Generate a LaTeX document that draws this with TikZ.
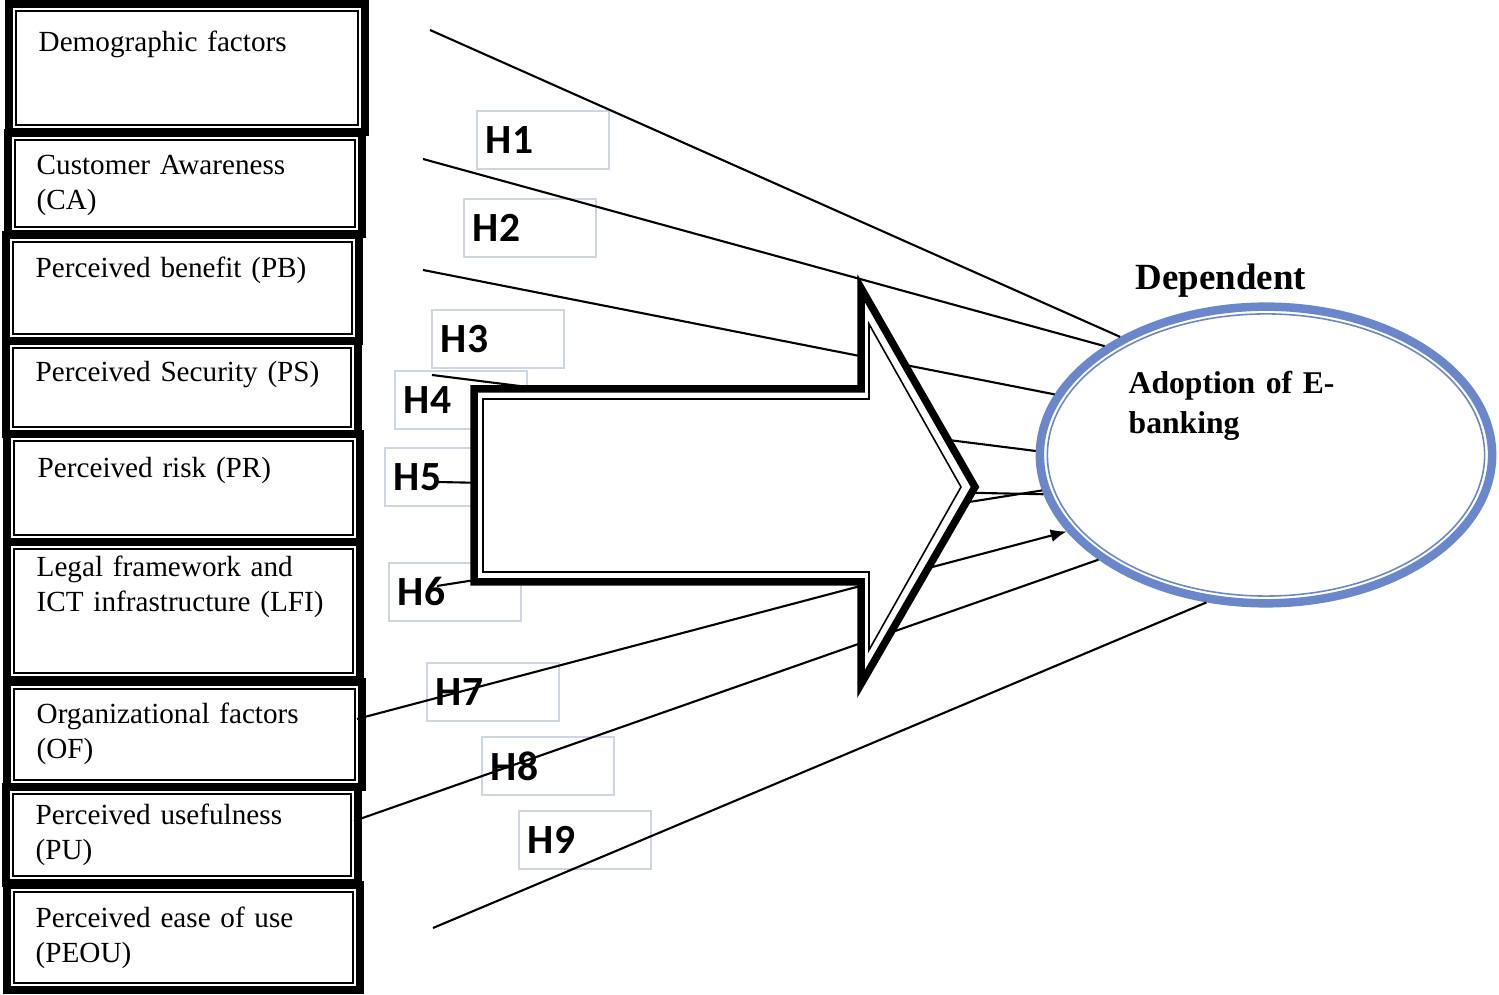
\documentclass[tikz,border=0pt]{standalone}
\usepackage{fontspec}
\setmainfont{Liberation Serif}
\newfontfamily\hfont{Carlito}
\usetikzlibrary{shapes.geometric,arrows.meta}
\definecolor{ebank}{RGB}{106,135,204}
\definecolor{hgrey}{RGB}{205,213,228}
\begin{document}
\begin{tikzpicture}[x=0.01cm,y=-0.01cm,
    frame/.style={line width=2.4pt},
    inframe/.style={line width=0.45pt},
    factor/.style={anchor=base west,inner sep=0pt,text width=3.2cm,align=left,font=\fontsize{8.3}{9.8}\selectfont},
    hyp/.style={draw=hgrey,line width=0.6pt,fill=white,minimum width=1.32cm,minimum height=0.575cm,inner xsep=0.09cm,text width=1.14cm,align=left,font=\hfont\bfseries\fontsize{11.8}{12}\selectfont},
    link/.style={line width=0.6pt}]
        \useasboundingbox (0,0) rectangle (1499,995);
        % hypothesis labels
        \node[hyp] (h1) at (543,140) {H1};
        \node[hyp] (h2) at (530,228) {H2};
        \node[hyp] (h3) at (498,339) {H3};
        \node[hyp] (h4) at (461,400) {H4};
        \node[hyp] (h5) at (451,477) {H5};
        \node[hyp] (h6) at (455,592) {H6};
        \node[hyp] (h7) at (493,692) {H7};
        \node[hyp] (h8) at (548,766) {H8};
        \node[hyp] (h9) at (585,840) {H9};
        %
        \node[ellipse,draw=ebank,line width=0.085cm,fill=white,inner sep=0pt,minimum width=4.52cm,minimum height=2.965cm] (dep) at (1266,455) {};
        \draw[ebank,line width=0.45pt] (dep.center) ellipse [x radius=2.185cm,y radius=1.41cm];
        \node[anchor=base west,inner sep=0pt,font=\bfseries\fontsize{10.5}{12}\selectfont] (deplabel) at (1135,290) {Dependent};
        \node[anchor=base west,inner sep=0pt,text width=2.6cm,align=left,font=\bfseries\fontsize{9}{11.1}\selectfont] (adopt) at (1128,394) {Adoption of E-\\banking};
        %
        \coordinate (s1) at (430,30);
        \coordinate (s2) at (423,159);
        \coordinate (s3) at (423,270);
        \coordinate (s4) at (432,375);
        \coordinate (s5) at (437,482);
        \coordinate (s6) at (437,586);
        \coordinate (s7) at (357,719);
        \coordinate (s8) at (354,821);
        \coordinate (s9) at (433,928);
        \draw[link] (s1) -- (dep.141.3);
        \draw[link] (s2) -- (dep.146.7);
        \draw[link] (s3) -- (dep.164.7);
        \draw[link] (s4) -- (dep.179.1);
        \draw[link] (s5) -- (dep.190.8);
        \draw[link] (s6) -- (dep.189.8);
        \draw[link,-{Latex[length=0.16cm,width=0.13cm]}] (s7) -- (dep.201);
        \draw[link] (s8) -- (dep.212.1);
        \draw[link] (s9) -- (dep.248.2);
        %
        % block arrow
        \filldraw[fill=white,line width=0.075cm] (474,389) -- (861,389) -- (861,288) -- (975,487) -- (861,684) -- (861,582) -- (474,582) -- cycle;
        \draw[inframe] (483,399) -- (869,399) -- (869,324) -- (961,487) -- (869,650) -- (869,572) -- (483,572) -- cycle;
        %
        % factor boxes
        \draw[frame] (9,4) rectangle (365,132);
        \draw[inframe] (16,11) rectangle (358,125);
        \node[factor] (df) at (38,52) {Demographic factors};
        %
        \draw[frame] (8,133) rectangle (362,234);
        \draw[inframe] (15,140) rectangle (355,227);
        \node[factor] (ca) at (36,175) {Customer Awareness\\(CA)};
        %
        \draw[frame] (6,235) rectangle (359,341);
        \draw[inframe] (13,242) rectangle (352,334);
        \node[factor] (pb) at (35,278) {Perceived benefit (PB)};
        %
        \draw[frame] (6,341) rectangle (358,434);
        \draw[inframe] (13,348) rectangle (351,427);
        \node[factor] (ps) at (35,382) {Perceived Security (PS)};
        %
        \draw[frame] (7,434) rectangle (360,542);
        \draw[inframe] (14,441) rectangle (353,535);
        \node[factor] (pr) at (37,478) {Perceived risk (PR)};
        %
        \draw[frame] (7,542) rectangle (360,680);
        \draw[inframe] (14,549) rectangle (353,673);
        \node[factor] (lfi) at (36,577) {Legal framework and\\ICT infrastructure (LFI)};
        %
        \draw[frame] (7,682) rectangle (362,787);
        \draw[inframe] (14,689) rectangle (355,780);
        \node[factor] (of) at (36,724) {Organizational factors\\(OF)};
        %
        \draw[frame] (6,787) rectangle (358,883);
        \draw[inframe] (13,794) rectangle (351,876);
        \node[factor] (pu) at (35,825) {Perceived usefulness\\(PU)};
        %
        \draw[frame] (7,885) rectangle (360,990);
        \draw[inframe] (14,892) rectangle (353,983);
        \node[factor] (peou) at (35,928) {Perceived ease of use\\(PEOU)};
    \end{tikzpicture}
\end{document}
